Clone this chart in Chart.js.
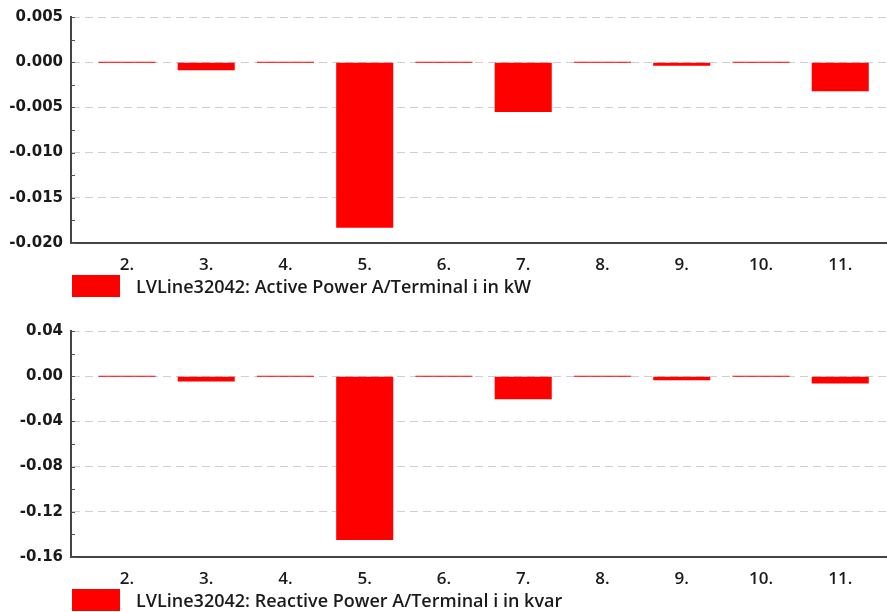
<!DOCTYPE html>
<html>
<head>
<meta charset="utf-8">
<script src="https://cdn.jsdelivr.net/npm/chart.js@4/dist/chart.umd.min.js"></script>
<style>
  html, body { margin: 0; padding: 0; background: #ffffff; }
  #wrap { position: relative; width: 887px; height: 612px; overflow: hidden; }
  canvas { position: absolute; left: 0; }
</style>
</head>
<body>
<div id="wrap">
  <canvas id="activeChart" width="887" height="306" style="top:0"></canvas>
  <canvas id="reactiveChart" width="887" height="306" style="top:306px"></canvas>
</div>
<script>
// Terminals along the line (category axis)
const terminals = [2, 3, 4, 5, 6, 7, 8, 9, 10, 11];

// Active power per terminal, kW
const activePowerKW = [0, -0.0009, 0, -0.0183, 0, -0.0055, 0, -0.0004, 0, -0.0032];

// Reactive power per terminal, kvar
const reactivePowerKvar = [0, -0.0048, 0, -0.145, 0, -0.0204, 0, -0.0035, 0, -0.0065];

// Value axis ranges and tick steps
const activeAxis = { min: -0.020, max: 0.005, step: 0.005, decimals: 3 };
const reactiveAxis = { min: -0.16, max: 0.04, step: 0.04, decimals: 2 };

// Series names shown in the legends
const activeLabel = 'LVLine32042: Active Power A/Terminal i in kW';
const reactiveLabel = 'LVLine32042: Reactive Power A/Terminal i in kvar';

const BAR_RED = '#ff0000';
const TEXT = '#1a1a1a';
const AXIS = '#444444';

// Short tick marks on the inner side of the value axis, major and minor
const innerTicks = {
  id: 'innerTicks',
  afterDatasetsDraw(chart) {
    const y = chart.scales.y;
    const left = chart.chartArea.left;
    const ctx = chart.ctx;
    const vals = y.ticks.map(t => t.value);
    ctx.save();
    ctx.strokeStyle = '#555555';
    ctx.lineWidth = 1;
    ctx.beginPath();
    vals.forEach((v, i) => {
      const py = Math.round(y.getPixelForValue(v)) + 0.5;
      ctx.moveTo(left, py); ctx.lineTo(left + 4, py);
      if (i < vals.length - 1) {
        const my = Math.round(y.getPixelForValue((v + vals[i + 1]) / 2)) + 0.5;
        ctx.moveTo(left, my); ctx.lineTo(left + 4, my);
      }
    });
    ctx.stroke();
    ctx.restore();
  }
};

// Legend swatch and text aligned with the plot's left edge, under the axis labels
const legendRow = {
  id: 'legendRow',
  afterDraw(chart) {
    const ds = chart.data.datasets[0];
    const ctx = chart.ctx;
    const x0 = chart.chartArea.left;
    const top = chart.scales.x.bottom + 2;
    ctx.save();
    ctx.fillStyle = ds.backgroundColor;
    ctx.fillRect(x0 + 1, top, 48, 22);
    ctx.fillStyle = TEXT;
    ctx.font = '600 18px "Open Sans"';
    ctx.textBaseline = 'middle';
    ctx.textAlign = 'left';
    ctx.fillText(ds.label, x0 + 65, top + 13);
    ctx.restore();
  }
};

function fmt(v, d) {
  if (Math.abs(v) < 1e-12) v = 0;
  return v.toFixed(d);
}

function makeChart(id, values, axis, label, padTop, padBottom) {
  return new Chart(document.getElementById(id), {
    type: 'bar',
    data: {
      datasets: [{
        label: label,
        data: terminals.map((t, i) => ({ x: t, y: values[i] })),
        backgroundColor: BAR_RED,
        borderWidth: 0,
        barPercentage: 0.72,
        categoryPercentage: 1,
        minBarLength: 1
      }]
    },
    options: {
      responsive: false,
      animation: false,
      layout: { padding: { top: padTop, bottom: padBottom, left: 0, right: 0 } },
      plugins: {
        legend: { display: false },
        tooltip: { enabled: false }
      },
      scales: {
        x: {
          type: 'linear',
          offset: false,
          min: terminals[0] - 0.706,
          max: terminals[terminals.length - 1] + 0.59,
          afterBuildTicks: s => { s.ticks = terminals.map(v => ({ value: v })); },
          afterFit: s => { s.height = 30; },
          grid: { display: false, drawTicks: false, offset: false },
          border: { display: true, color: AXIS, width: 2 },
          ticks: {
            callback: v => v + '.',
            color: TEXT,
            font: { family: 'Open Sans', size: 17, weight: '600' },
            padding: 12,
            maxRotation: 0,
            autoSkip: false
          }
        },
        y: {
          type: 'linear',
          min: axis.min,
          max: axis.max,
          afterFit: s => { s.width = 71; },
          grid: {
            color: ctx => (Math.abs(ctx.tick.value - axis.min) < 1e-12 ? 'rgba(0,0,0,0)' : '#cfcfcf'),
            lineWidth: 1,
            drawTicks: false
          },
          border: { display: true, color: AXIS, width: 2, dash: [8, 5] },
          ticks: {
            stepSize: axis.step,
            callback: v => fmt(v, axis.decimals),
            color: TEXT,
            font: { family: 'DejaVu Sans', size: 15, weight: 'bold' },
            padding: 8
          }
        }
      }
    },
    plugins: [innerTicks, legendRow]
  });
}

Chart.defaults.font.family = 'Open Sans';

makeChart('activeChart', activePowerKW, activeAxis, activeLabel, 16, 33);
makeChart('reactiveChart', reactivePowerKvar, reactiveAxis, reactiveLabel, 25, 25);
</script>
</body>
</html>
